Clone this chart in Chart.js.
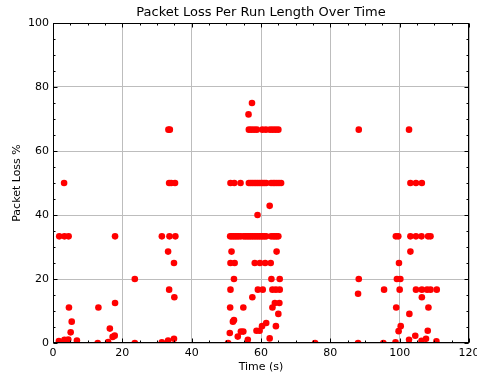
<!DOCTYPE html>
<html>
<head>
<meta charset="utf-8">
<script src="https://cdn.jsdelivr.net/npm/chart.js@4/dist/chart.umd.min.js"></script>
<style>
  html, body { margin: 0; padding: 0; background: #fff; }
  #wrap { width: 477px; height: 374px; }
</style>
</head>
<body>
<div id="wrap"><canvas id="lossChart" width="477" height="374"></canvas></div>
<script>
// run start times (s) and packet loss (%) per run
const timeSec = [
  // 0-25 s
  1.8, 3.3, 4.5, 3.2, 17.9, 4.6, 13.1, 17.9, 5.4, 5.1,
  1.7, 3.3, 4.4, 6.9, 12.9, 15.9, 16.4, 17.2, 17.8, 23.6, 23.6,
  // 30-36 s
  33.3, 33.7, 33.5, 34.1, 35.2, 31.4, 33.6, 35.3, 33.2, 34.9, 33.5, 35.0, 31.4, 33.2, 34.9,
  // 50-66 s
  57.4, 56.4,
  56.5, 57.2, 58.0, 58.8, 60.4, 61.4, 62.6, 63.4, 64.2, 65.0,
  51.2, 52.3, 54.1, 56.5, 57.0, 57.5, 58.0, 58.5, 59.0, 59.5, 60.0, 60.5, 61.0, 61.5,
  62.9, 63.5, 64.0, 64.6, 65.2, 65.8,
  62.5, 59.0,
  51.1, 51.6, 52.1, 52.6, 53.1, 53.6, 54.2, 55.0, 55.5, 56.0, 56.5, 57.0, 57.5, 58.0,
  58.5, 59.0, 59.5, 60.0, 60.5, 61.0, 61.5, 62.9, 63.5, 64.0, 64.5, 65.0,
  51.5, 64.5,
  51.2, 52.4, 58.2, 59.7, 61.2, 62.8,
  52.2, 63.0, 65.4,
  51.2, 59.1, 60.5, 63.3, 64.3, 65.4,
  57.5, 64.0, 65.3,
  51.1, 54.9, 63.3, 65.0,
  50.5, 51.0, 51.9, 52.2, 53.3, 54.2, 54.9, 56.2, 58.7, 59.6, 60.3, 61.5, 62.5, 64.3,
  75.6,
  // 88-96 s
  88.2, 88.2, 88.0, 88.0, 95.5, 95.3,
  // 98-111 s
  102.7, 103.1, 104.7, 106.4,
  98.9, 99.6, 103.1, 104.7, 106.3, 108.2, 108.9,
  103.1, 99.8, 99.2, 100.2, 100.0,
  104.7, 106.4, 107.9, 108.9, 110.7, 106.4,
  99.0, 108.3, 102.8, 100.3, 99.7, 108.1, 104.5, 102.7, 106.3, 107.6, 110.6, 98.8
];

const lossPct = [
  33.33, 33.33, 33.33, 50, 33.33, 11.11, 11.11, 12.5, 6.67, 3.33,
  0.6, 1.0, 1.1, 0.8, 0, 0.3, 4.5, 1.9, 2.3, 20, 0,
  66.67, 66.67, 50, 50, 50, 33.33, 33.33, 33.33, 28.57, 25, 16.67, 14.29, 0.2, 0.8, 1.3,
  75, 71.43,
  66.67, 66.67, 66.67, 66.67, 66.67, 66.67, 66.67, 66.67, 66.67, 66.67,
  50, 50, 50, 50, 50, 50, 50, 50, 50, 50, 50, 50, 50, 50,
  50, 50, 50, 50, 50, 50,
  42.86, 40,
  33.33, 33.33, 33.33, 33.33, 33.33, 33.33, 33.33, 33.33, 33.33, 33.33, 33.33, 33.33, 33.33, 33.33,
  33.33, 33.33, 33.33, 33.33, 33.33, 33.33, 33.33, 33.33, 33.33, 33.33, 33.33, 33.33,
  28.57, 28.57,
  25, 25, 25, 25, 25, 25,
  20, 20, 20,
  16.67, 16.67, 16.67, 16.67, 16.67, 16.67,
  14.29, 12.5, 12.5,
  11.11, 11.11, 11.11, 9.09,
  0, 3.13, 6.67, 7.14, 2.0, 3.57, 3.57, 1.0, 3.85, 3.85, 5.26, 6.25, 1.43, 5.26,
  0,
  66.67, 20, 15.38, 0, 16.67, 0,
  66.67, 50, 50, 50,
  33.33, 33.33, 33.33, 33.33, 33.33, 33.33, 33.33,
  28.57, 25, 20, 20, 16.67,
  16.67, 16.67, 16.67, 16.67, 16.67, 14.29,
  11.11, 11.11, 9.09, 5.26, 3.7, 3.85, 2.27, 1.0, 0.7, 1.3, 0.5, 0.2
];

const xTicks = [0, 20, 40, 60, 80, 100, 120];
const yTicks = [0, 20, 40, 60, 80, 100];

const points = timeSec.map((t, i) => ({ x: t, y: lossPct[i] }));

const FONT = "'DejaVu Sans', sans-serif";

// black box with inward major/minor ticks on all four sides
const frameTicks = {
  id: 'frameTicks',
  afterDraw(chart) {
    const { ctx, chartArea: a, scales: { x, y } } = chart;
    const L = Math.round(a.left) + 0.5, R = Math.round(a.right) - 0.5;
    const T = Math.round(a.top) + 0.5, B = Math.round(a.bottom) - 0.5;
    ctx.save();
    ctx.strokeStyle = '#000';
    ctx.lineWidth = 1;
    ctx.beginPath();
    for (let v = 0; v <= 120; v += 5) {
      const px = Math.round(x.getPixelForValue(v)) + 0.5;
      const len = v % 20 === 0 ? 4 : 2;
      ctx.moveTo(px, B); ctx.lineTo(px, B - len);
      ctx.moveTo(px, T); ctx.lineTo(px, T + len);
    }
    for (let v = 0; v <= 100; v += 5) {
      const py = Math.round(y.getPixelForValue(v)) + 0.5;
      const len = v % 20 === 0 ? 4 : 2;
      ctx.moveTo(L, py); ctx.lineTo(L + len, py);
      ctx.moveTo(R, py); ctx.lineTo(R - len, py);
    }
    ctx.stroke();
    ctx.strokeRect(L, T, R - L, B - T);
    ctx.restore();
  }
};

new Chart(document.getElementById('lossChart'), {
  type: 'scatter',
  data: {
    datasets: [{
      data: points,
      pointRadius: 3.3,
      pointHoverRadius: 3.3,
      pointBackgroundColor: '#ff0000',
      pointBorderWidth: 0,
      borderColor: '#ff0000',
      clip: 0
    }]
  },
  options: {
    responsive: false,
    animation: false,
    events: [],
    layout: { padding: { left: 0, right: 8, top: 0, bottom: 0 } },
    plugins: {
      legend: { display: false },
      tooltip: { enabled: false },
      title: {
        display: true,
        fullSize: false,
        text: 'Packet Loss Per Run Length Over Time',
        color: '#000',
        font: { family: FONT, size: 13, weight: 'normal' },
        padding: { top: 5, bottom: 2.4 }
      }
    },
    scales: {
      x: {
        type: 'linear',
        min: 0, max: 120,
        afterBuildTicks: s => { s.ticks = xTicks.map(v => ({ value: v })); },
        afterFit: s => { s.height = 31; s.paddingLeft = 0; s.paddingRight = 0; },
        grid: { color: '#bdbdbd', lineWidth: 1, drawTicks: false },
        border: { display: false },
        ticks: { color: '#000', padding: 4, maxRotation: 0, font: { family: FONT, size: 11 } },
        title: {
          display: true, text: 'Time (s)', color: '#000',
          font: { family: FONT, size: 11 }, padding: { top: 0, bottom: 0 }
        }
      },
      y: {
        type: 'linear',
        min: 0, max: 100,
        afterBuildTicks: s => { s.ticks = yTicks.map(v => ({ value: v })); },
        afterFit: s => { s.width = 53; },
        grid: { color: '#bdbdbd', lineWidth: 1, drawTicks: false },
        border: { display: false },
        ticks: { color: '#000', padding: 4, font: { family: FONT, size: 11 } },
        title: {
          display: true, text: 'Packet Loss %', color: '#000',
          font: { family: FONT, size: 11 }, padding: { top: 11, bottom: 0 }
        }
      }
    }
  },
  plugins: [frameTicks]
});
</script>
</body>
</html>
